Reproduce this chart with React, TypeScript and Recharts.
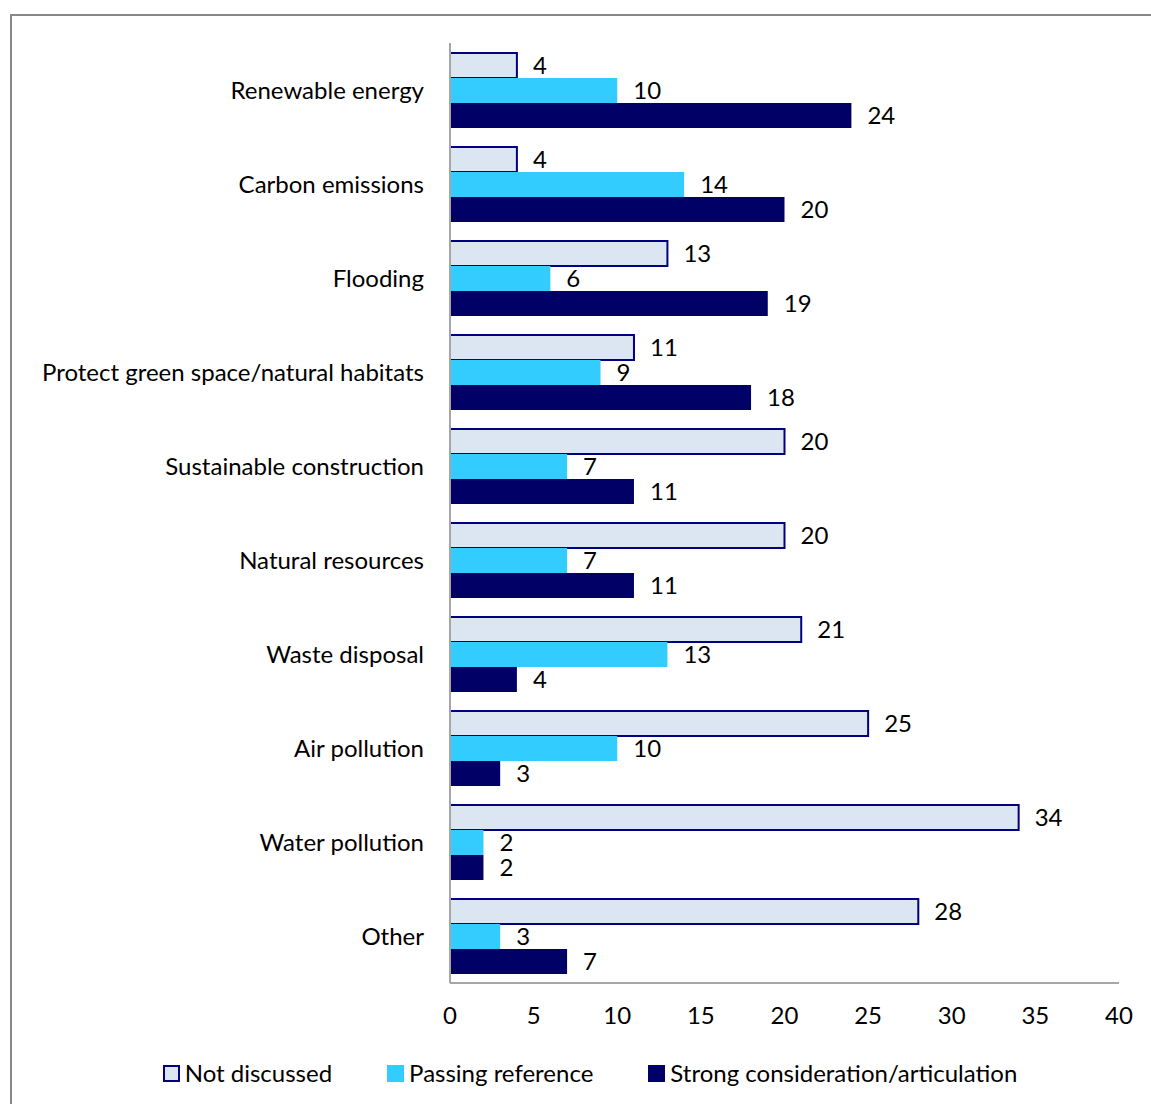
import React from 'react';
import { BarChart, Bar, XAxis, YAxis, LabelList } from 'recharts';

const categories = [
    'Renewable energy',
    'Carbon emissions',
    'Flooding',
    'Protect green space/natural habitats',
    'Sustainable construction',
    'Natural resources',
    'Waste disposal',
    'Air pollution',
    'Water pollution',
    'Other',
];
const notDiscussed = [4, 4, 13, 11, 20, 20, 21, 25, 34, 28];
const passingReference = [10, 14, 6, 9, 7, 7, 13, 10, 2, 3];
const strongConsideration = [24, 20, 19, 18, 11, 11, 4, 3, 2, 7];
const xTicks = [0, 5, 10, 15, 20, 25, 30, 35, 40];

const FONT = 'Lato, "Noto Sans", sans-serif';
const FS = 24;

const series = [
    { key: 'notDiscussed', name: 'Not discussed', fill: '#dce6f2', stroke: '#000080' },
    { key: 'passing', name: 'Passing reference', fill: '#33ccff', stroke: 'none' },
    { key: 'strong', name: 'Strong consideration/articulation', fill: '#000066', stroke: 'none' },
];

const data = categories.map((c, i) => ({
    name: c,
    notDiscussed: notDiscussed[i],
    passing: passingReference[i],
    strong: strongConsideration[i],
}));

// legend drawn by hand below the plot so it doesn't eat plot height
const CustomLegend = () => (
    <div style={{
        position: 'absolute', left: 0, top: 1056, width: 1180,
        display: 'flex', justifyContent: 'center', gap: 55,
        fontFamily: FONT, fontSize: FS, color: '#000', lineHeight: '34px',
    }}>
        {series.map(s => (
            <div key={s.key} style={{ display: 'flex', alignItems: 'center', gap: 5 }}>
                <span style={{
                    display: 'inline-block', width: 13, height: 13, background: s.fill,
                    border: `2px solid ${s.stroke !== 'none' ? s.stroke : s.fill}`,
                }} />
                <span>{s.name}</span>
            </div>
        ))}
    </div>
);

const App: React.FC = () => {
    return (
        <div style={{ position: 'absolute', left: 0, top: 0, width: 1151, height: 1104, background: '#fff', overflow: 'hidden' }}>
            <div style={{
                position: 'absolute', left: 10, top: 14, width: 1200, height: 1200,
                borderTop: '2px solid #888', borderLeft: '2px solid #888',
            }} />
            <div style={{ position: 'absolute', left: 0, top: 0 }}>
                <BarChart
                    width={1151}
                    height={1104}
                    data={data}
                    layout="vertical"
                    margin={{ top: 43, right: 32, left: 10, bottom: 91 }}
                    barSize={25}
                    barGap={0}
                >
                    <XAxis
                        type="number"
                        domain={[0, 40]}
                        ticks={xTicks}
                        height={30}
                        axisLine={{ stroke: '#a6a6a6', strokeWidth: 2 }}
                        tickLine={false}
                        tickSize={0}
                        tickMargin={24}
                        tick={{ fontSize: FS, fill: '#000', fontFamily: FONT }}
                        interval={0}
                    />
                    <YAxis
                        type="category"
                        dataKey="name"
                        width={440}
                        axisLine={{ stroke: '#a6a6a6', strokeWidth: 2 }}
                        tickLine={false}
                        tickSize={0}
                        tickMargin={26}
                        tick={{ fontSize: FS, fill: '#000', fontFamily: FONT }}
                        interval={0}
                    />
                    {series.map(s => (
                        <Bar
                            key={s.key}
                            dataKey={s.key}
                            name={s.name}
                            fill={s.fill}
                            stroke={s.stroke}
                            strokeWidth={s.stroke !== 'none' ? 2 : 0}
                            isAnimationActive={false}
                        >
                            <LabelList
                                dataKey={s.key}
                                position="right"
                                offset={16}
                                style={{ fontSize: FS, fill: '#000', fontFamily: FONT }}
                            />
                        </Bar>
                    ))}
                </BarChart>
            </div>
            <CustomLegend />
        </div>
    );
};

export default App;
